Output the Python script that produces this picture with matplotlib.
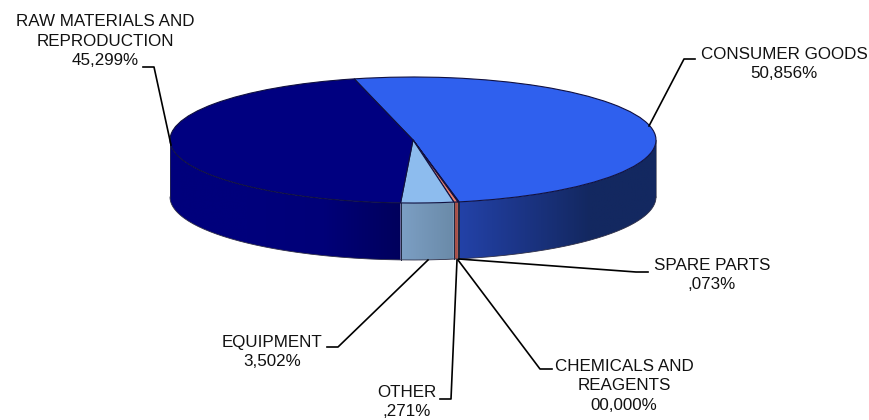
import numpy as np
import matplotlib
matplotlib.use('Agg')
import matplotlib.pyplot as plt
from matplotlib.lines import Line2D
from matplotlib.patches import Polygon
from matplotlib.colors import to_rgb

W, H = 869, 420

categories = ['CONSUMER GOODS', 'SPARE PARTS', 'CHEMICALS AND\nREAGENTS', 'OTHER', 'EQUIPMENT',
              'RAW MATERIALS AND\nREPRODUCTION']
values = [50.856, 0.073, 0.000, 0.271, 3.502, 45.299]
value_labels = ['50,856%', ',073%', '00,000%', ',271%', '3,502%', '45,299%']
top_colors = ['#2f60ee', '#e8705c', '#d06050', '#e8806c', '#8dbcee', '#000080']
# wall gradient stops, left to right
wall_colors = [['#2342a8', '#1b3484', '#132860', '#132860'], ['#a85048', '#a85048'], ['#a85048', '#a85048'],
               ['#a85048', '#a85048'], ['#7c9fc4', '#6a8aa8'], ['#00007c', '#00007c', '#000078', '#00005c']]

label_xy = [(784, 64), (712, 275), (624, 386), (407, 402), (272, 352), (105, 41)]
leaders = [[(695, 59), (684, 59), (649, 126)],
           [(648, 272), (636, 272), (459, 259)],
           [(552, 369), (540, 369), (458, 260)],
           [(440, 399), (451, 399), (457, 260)],
           [(327, 347), (338, 347), (428, 260)],
           [(143, 67), (154, 67), (171, 145)]]

cx, cy, rx, ry, depth = 413, 140, 243, 63, 57
start = 104

fig = plt.figure(figsize=(W / 100, H / 100), dpi=100)
fig.set_facecolor('w')
ax = fig.add_axes([0, 0, 1, 1])

wedges, _ = ax.pie(values, startangle=start, counterclock=False, colors=top_colors,
                   wedgeprops={'linewidth': 0.8, 'edgecolor': '#101040', 'zorder': 5})

d = depth / ry
edges = start - np.cumsum([0] + values) * 3.6

# side wall of the slices, front half only
for i in range(len(values)):
    a0, a1 = edges[i + 1], edges[i]
    for lo, hi in [(a0, a1), (a0 + 360, a1 + 360)]:
        lo, hi = max(lo, -180), min(hi, 0)
        if lo >= hi:
            continue
        t = np.radians(np.linspace(lo, hi, 200))
        x = np.cos(t)
        y = np.sin(t)
        poly = Polygon(np.column_stack([np.r_[x, x[::-1]], np.r_[y, y[::-1] - d]]), closed=True,
                       facecolor='none', edgecolor='none', transform=ax.transData)
        ax.add_patch(poly)
        stops = np.array([to_rgb(c) for c in wall_colors[i]])
        pos = np.linspace(0, 1, len(stops))
        f = np.linspace(0, 1, 256)
        grad = np.stack([np.interp(f, pos, stops[:, j]) for j in range(3)], axis=1)[np.newaxis, :, :]
        im = ax.imshow(grad, extent=(x.min(), x.max(), y.min() - d, y.max()), aspect='auto', zorder=2,
                       interpolation='bilinear')
        im.set_clip_path(poly)
        # dark seams between the wall pieces
        for tt in [lo, hi]:
            if -179 < tt < -1 and i in (1, 3, 4, 5):
                r = np.radians(tt)
                ax.plot([np.cos(r)] * 2, [np.sin(r), np.sin(r) - d], color='#202840', lw=0.7, zorder=3)

ax.set_aspect('auto')
ax.set_xlim(-cx / rx, (W - cx) / rx)
ax.set_ylim((cy - H) / ry, cy / ry)
ax.axis('off')

# outline of the wall
t = np.radians(np.linspace(-180, 0, 200))
ax.plot(np.cos(t), np.sin(t) - d, color='#303048', lw=0.6, zorder=3)
ax.plot([-1, -1], [0, -d], color='#303048', lw=0.5, zorder=3)
ax.plot([1, 1], [0, -d], color='#505060', lw=0.5, zorder=3)

# leader lines and labels, in pixels of the figure
for pts in leaders:
    xs = [p[0] / W for p in pts]
    ys = [1 - p[1] / H for p in pts]
    fig.add_artist(Line2D(xs, ys, color='k', lw=1.2, zorder=10, transform=fig.transFigure))

for name, val, (lx, ly) in zip(categories, value_labels, label_xy):
    fig.text(lx / W, 1 - ly / H, name + '\n' + val, ha='center', va='center', ma='center',
             family='Liberation Sans', fontsize=12.25, linespacing=1.36, color='#111111', zorder=11)

fig.savefig('out.png', dpi=100)
